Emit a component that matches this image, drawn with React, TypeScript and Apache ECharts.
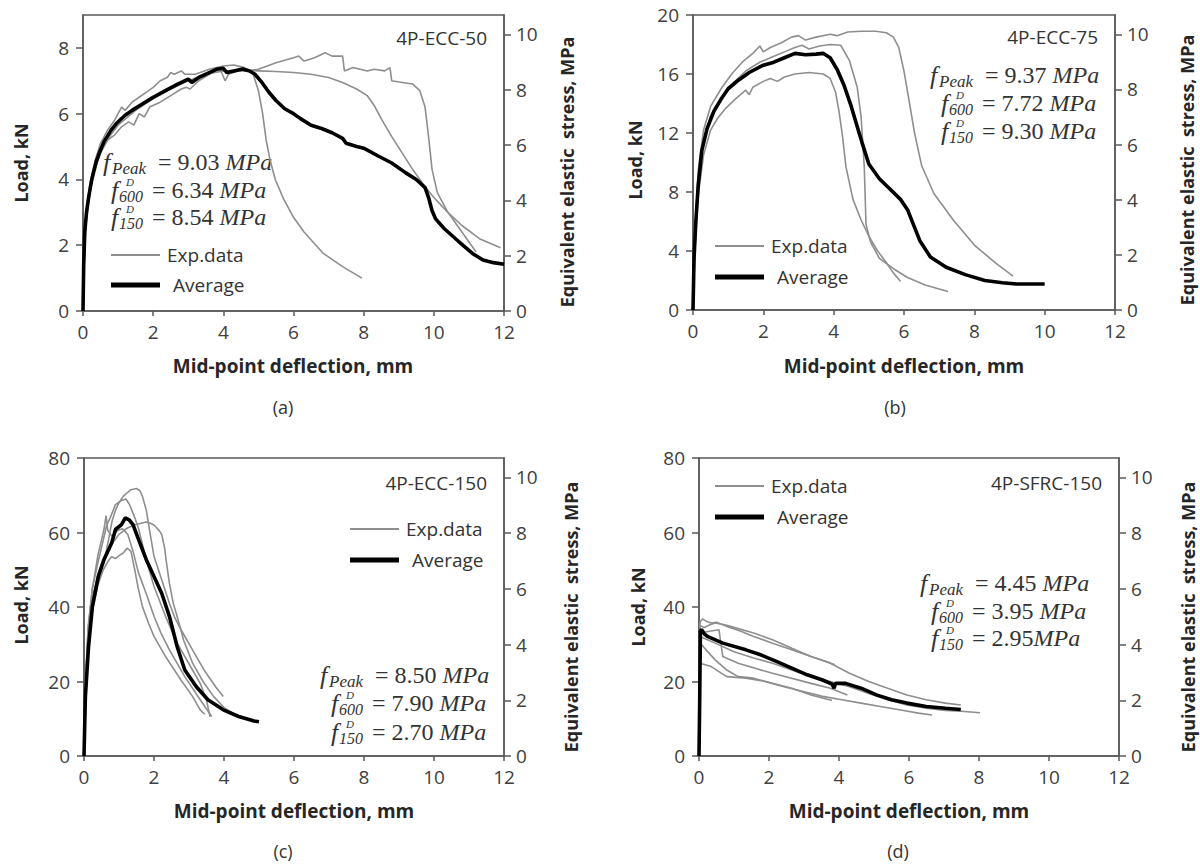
import React, { useEffect, useRef } from 'react';
import * as echarts from 'echarts';

type P = [number, number][];

// ---------- Panel (a) 4P-ECC-50 ----------
const aAvg: P = [[0,0],[0.02,1.4],[0.05,2.4],[0.1,3.0],[0.16,3.45],[0.25,4.0],[0.38,4.55],[0.5,4.9],[0.6,5.15],[0.8,5.5],[0.95,5.7],[1.2,5.95],[1.4,6.1],[1.7,6.3],[2.0,6.5],[2.35,6.7],[2.7,6.9],[3.0,7.05],[3.1,6.95],[3.3,7.1],[3.6,7.25],[3.8,7.35],[4.0,7.38],[4.1,7.25],[4.3,7.3],[4.55,7.36],[4.75,7.3],[4.9,7.2],[5.1,6.95],[5.3,6.65],[5.5,6.4],[5.75,6.15],[6.0,6.0],[6.2,5.85],[6.5,5.65],[6.8,5.55],[7.1,5.42],[7.4,5.25],[7.5,5.1],[7.8,5.0],[8.0,4.95],[8.4,4.72],[8.8,4.5],[9.2,4.2],[9.5,4.0],[9.75,3.75],[9.85,3.45],[9.95,3.05],[10.05,2.8],[10.3,2.5],[10.7,2.12],[11.1,1.75],[11.4,1.55],[11.7,1.47],[12.0,1.42]];
const aExp1: P = [[0,0],[0.05,2.3],[0.1,3.1],[0.2,3.9],[0.35,4.6],[0.5,5.1],[0.7,5.5],[0.9,5.8],[1.1,6.2],[1.2,6.1],[1.4,6.35],[1.6,6.5],[1.8,6.65],[2.0,6.8],[2.2,7.0],[2.4,7.1],[2.5,7.25],[2.6,7.2],[2.8,7.3],[2.9,7.2],[3.2,7.2],[3.6,7.35],[4.0,7.45],[4.3,7.48],[4.6,7.4],[4.85,7.2],[5.0,6.7],[5.12,6.0],[5.22,5.2],[5.33,4.6],[5.48,4.0],[5.72,3.4],[6.0,2.85],[6.3,2.4],[6.85,1.75],[7.4,1.35],[7.95,1.0]];
const aExp2: P = [[0,0],[0.05,2.0],[0.1,2.8],[0.2,3.6],[0.3,4.2],[0.5,4.8],[0.7,5.2],[0.9,5.35],[1.1,5.6],[1.3,5.75],[1.45,5.65],[1.6,6.0],[1.75,5.9],[1.9,6.2],[2.2,6.35],[2.5,6.55],[2.8,6.75],[2.95,6.8],[3.05,6.75],[3.3,7.0],[3.6,7.2],[3.9,7.38],[4.05,7.0],[4.15,7.2],[4.4,7.3],[4.7,7.3],[5.0,7.35],[5.5,7.55],[6.0,7.7],[6.15,7.75],[6.3,7.6],[6.6,7.7],[6.9,7.85],[7.1,7.75],[7.4,7.75],[7.45,7.3],[7.7,7.4],[7.9,7.35],[8.1,7.3],[8.3,7.35],[8.6,7.3],[8.75,7.4],[8.8,7.0],[9.1,6.95],[9.4,6.9],[9.6,6.7],[9.75,6.2],[9.85,5.3],[9.95,4.3],[10.1,3.6],[10.4,3.0],[10.8,2.4],[11.2,1.8]];
const aExp3: P = [[0,0],[0.05,2.2],[0.1,2.9],[0.2,3.7],[0.35,4.4],[0.5,4.85],[0.75,5.3],[1.0,5.65],[1.5,6.1],[2.0,6.45],[2.5,6.75],[3.0,7.0],[3.5,7.2],[4.0,7.3],[4.5,7.32],[5.0,7.3],[5.5,7.28],[6.0,7.25],[6.5,7.2],[7.0,7.1],[7.4,6.95],[7.8,6.75],[8.1,6.55],[8.3,6.25],[8.5,5.85],[8.8,5.3],[9.1,4.8],[9.4,4.3],[9.7,3.85],[10.0,3.45],[10.4,3.0],[10.8,2.6],[11.3,2.2],[11.9,1.92]];

// ---------- Panel (b) 4P-ECC-75 ----------
const bAvg: P = [[0,0],[0.03,3.5],[0.08,6],[0.15,8.5],[0.25,10.8],[0.4,12.3],[0.6,13.5],[0.8,14.3],[1.0,15.0],[1.3,15.6],[1.6,16.1],[2.0,16.6],[2.3,16.8],[2.6,17.1],[2.9,17.4],[3.2,17.3],[3.5,17.35],[3.7,17.4],[3.9,17.1],[4.1,16.3],[4.3,15.2],[4.5,13.8],[4.65,12.6],[4.8,11.4],[5.0,9.9],[5.3,8.9],[5.6,8.2],[5.9,7.5],[6.1,6.8],[6.3,5.6],[6.45,4.7],[6.75,3.6],[7.2,2.9],[7.74,2.4],[8.3,2.0],[8.8,1.85],[9.2,1.76],[10.0,1.76]];
const bExp1: P = [[0,0],[0.05,5],[0.15,9.5],[0.3,12.2],[0.5,13.8],[0.8,15.0],[1.1,16.0],[1.4,16.8],[1.7,17.4],[1.9,17.9],[2.0,17.5],[2.2,17.8],[2.5,18.1],[2.8,18.5],[3.0,18.6],[3.2,18.3],[3.5,18.5],[3.9,18.7],[4.1,18.6],[4.4,18.85],[4.8,18.9],[5.2,18.9],[5.5,18.8],[5.7,18.5],[5.85,17.8],[6.0,16.2],[6.1,14.8],[6.3,12.0],[6.5,9.8],[6.85,7.9],[7.4,6.1],[8.0,4.4],[8.6,3.2],[9.1,2.3]];
const bExp2: P = [[0,0],[0.05,4.5],[0.15,8.8],[0.3,11.5],[0.5,13.2],[0.8,14.4],[1.1,15.3],[1.5,16.2],[1.9,16.8],[2.3,17.2],[2.6,17.5],[2.9,17.8],[3.1,17.95],[3.3,17.7],[3.6,17.9],[3.9,18.0],[4.2,17.95],[4.45,16.9],[4.67,15.1],[4.78,13.1],[4.87,9.7],[4.92,5.8],[5.05,4.6],[5.3,3.5],[5.7,2.8],[6.1,2.2],[6.6,1.7],[7.25,1.25]];
const bExp3: P = [[0,0],[0.05,4],[0.15,7.8],[0.3,10.5],[0.5,12.2],[0.7,13.0],[0.9,13.6],[1.2,14.3],[1.5,14.9],[1.6,14.6],[1.7,15.1],[2.0,15.5],[2.2,15.7],[2.4,15.5],[2.6,15.8],[2.9,16.0],[3.3,16.1],[3.7,16.0],[3.9,15.7],[4.05,14.8],[4.15,13.5],[4.25,11.8],[4.35,9.7],[4.55,7.5],[4.78,6.1],[5.0,5.0],[5.25,4.0],[5.5,3.2],[5.7,2.5],[5.9,1.95]];

// ---------- Panel (c) 4P-ECC-150 ----------
const cAvg: P = [[0,0],[0.04,16],[0.13,29.4],[0.24,40.1],[0.41,48.2],[0.57,52.7],[0.79,57.2],[0.9,60.8],[1.07,62.1],[1.18,63.9],[1.29,63.4],[1.4,62.1],[1.56,58.1],[1.78,52.7],[2.0,48.2],[2.22,43.7],[2.44,37.5],[2.66,29.4],[2.88,23.1],[3.21,18.6],[3.54,15.1],[3.98,12.4],[4.42,10.6],[4.86,9.4],[5.0,9.2]];
const cExp1: P = [[0,0],[0.04,18],[0.12,32],[0.24,42.8],[0.4,48],[0.57,52],[0.7,58],[0.8,63],[0.9,66],[1.0,68],[1.12,69.7],[1.25,70.8],[1.34,71.5],[1.5,71.8],[1.6,71.2],[1.67,69.7],[1.78,66],[1.84,62.5],[1.92,58],[2.0,53.6],[2.22,47.3],[2.44,41],[2.6,37],[2.77,33.9],[2.95,31],[3.1,28.5],[3.43,23.1],[3.76,18.6],[3.98,16]];
const cExp2: P = [[0,0],[0.04,20],[0.12,35],[0.24,45],[0.4,52],[0.55,58],[0.65,62],[0.75,64],[0.9,67.5],[1.05,68.5],[1.2,69],[1.3,67.5],[1.45,64],[1.56,61],[1.78,52.7],[2.0,45.5],[2.33,37.5],[2.66,30.3],[2.99,24.9],[3.32,19.5],[3.5,15],[3.6,10.5]];
const cExp3: P = [[0,0],[0.04,17],[0.12,31],[0.24,42],[0.4,49],[0.6,54],[0.8,57],[1.0,59.5],[1.2,61],[1.45,62.1],[1.78,62.8],[1.9,62.5],[2.0,62],[2.15,60.5],[2.22,59.5],[2.3,56],[2.37,51],[2.44,46.4],[2.55,41],[2.66,37.5],[2.85,31],[3.1,25],[3.4,20],[3.7,16],[4.0,13],[4.3,11.2],[4.6,10.2],[4.8,9.6]];
const cExp4: P = [[0,0],[0.04,15],[0.12,28],[0.24,39],[0.4,46],[0.55,50],[0.7,52.5],[0.79,53.5],[0.9,53],[1.0,53.8],[1.12,54.5],[1.23,55.8],[1.34,55],[1.45,50],[1.55,45],[1.67,40.1],[1.85,35.5],[2.0,32.1],[2.33,26.7],[2.77,20.4],[3.1,16],[3.32,12.4],[3.45,11.2]];
const cExp5: P = [[0,0],[0.04,19],[0.12,34],[0.24,45],[0.4,54],[0.5,58],[0.57,60.8],[0.63,64.5],[0.68,60.5],[0.8,59],[0.95,60.5],[1.1,61],[1.25,59.5],[1.4,55],[1.56,49.1],[1.8,43],[2.0,37.5],[2.2,33],[2.44,28.5],[2.88,21.3],[3.32,15.1],[3.65,10.6]];

// ---------- Panel (d) 4P-SFRC-150 ----------
const dAvg: P = [[0,0],[0.02,15],[0.04,33.5],[0.07,34.0],[0.15,32.8],[0.24,32.1],[0.68,30.3],[1.34,28.5],[1.78,27.1],[2.21,25.4],[2.65,23.6],[3.09,21.8],[3.53,20.4],[3.8,19.3],[3.86,18.2],[3.9,19.5],[4.19,19.5],[4.63,18.2],[5.07,16.4],[5.5,15.1],[5.94,14.2],[6.49,13.3],[7.04,12.8],[7.48,12.5]];
const dExp1: P = [[0,0],[0.03,36],[0.1,36.8],[0.2,36.2],[0.35,35.7],[0.5,35.9],[0.79,34.8],[1.2,33.5],[1.56,32.1],[2.1,30.3],[2.65,28.5],[3.2,26.7],[3.6,25.5],[3.88,24.5]];
const dExp2: P = [[0,0],[0.03,35],[0.15,34.5],[0.3,35.2],[0.46,35.7],[0.7,35.3],[0.9,34.8],[1.56,33],[2.1,31.2],[2.65,28.9],[3.2,26.7],[3.75,24.9],[4.3,22.2],[4.85,20],[5.39,18.2],[5.94,16.4],[6.49,15.1],[7.04,14.2],[7.48,13.7]];
const dExp3: P = [[0,0],[0.03,32.1],[0.46,30.3],[1.0,28],[1.56,26.3],[2.1,24.9],[2.65,23.1],[3.2,21.3],[3.75,20],[4.3,18.6],[4.85,16.8],[5.39,15.1],[5.94,13.7],[6.49,12.8],[7.04,12.2],[7.5,12.0],[8.03,11.6]];
const dExp4: P = [[0,0],[0.03,24.9],[0.35,24],[0.79,21.3],[1.34,20.9],[1.89,20],[2.43,18.6],[2.98,17.3],[3.53,16],[4.08,15.1],[4.63,14.2],[5.18,13.3],[5.72,12.4],[6.27,11.5],[6.66,11]];
const dExp5: P = [[0,0],[0.03,30.3],[0.46,25.8],[0.79,23.1],[1.12,21.3],[1.56,20.9],[2.1,19.5],[2.65,18.2],[3.2,16.4],[3.8,14.9]];
const dExp6: P = [[0,0],[0.03,33],[0.3,33.5],[0.57,33.9],[0.63,30],[0.68,26.7],[1.12,24.9],[2.1,22.2],[3.2,19.5],[3.75,18.2],[4.24,16.4]];

// Axis ranges / labels
const xMax = 12;
const xInterval = 2;
const loadMax = [9, 20, 80, 80];
const loadInterval = [2, 4, 20, 20];
const stressMax = 10.7;
const stressInterval = 2;
const panelNames = ['4P-ECC-50', '4P-ECC-75', '4P-ECC-150', '4P-SFRC-150'];
const captions = ['(a)', '(b)', '(c)', '(d)'];
const fPeak = ['9.03', '9.37', '8.50', '4.45'];
const f600 = ['6.34', '7.72', '7.90', '3.95'];
const f150 = ['8.54', '9.30', '2.70', '2.95'];
const xTitle = 'Mid-point deflection, mm';
const yTitle = 'Load, kN';
const y2Title = 'Equivalent elastic  stress, MPa';
const legendNames = ['Exp.data', 'Average'];

const expSets: P[][] = [
  [aExp1, aExp2, aExp3],
  [bExp1, bExp2, bExp3],
  [cExp1, cExp2, cExp3, cExp4, cExp5],
  [dExp1, dExp2, dExp3, dExp4, dExp5, dExp6],
];
const avgSets: P[] = [aAvg, bAvg, cAvg, dAvg];

// Layout (pixels)
const grids = [
  { left: 83, top: 15, width: 421, height: 296 },
  { left: 693, top: 15, width: 422, height: 295 },
  { left: 84, top: 458, width: 420, height: 298 },
  { left: 699, top: 458, width: 420, height: 298 },
];
const xTitlePos = [[293, 366], [904, 366], [294, 811], [909, 811]];
const yTitlePos = [[21, 163], [635, 160], [21, 605], [638, 607]];
const y2TitlePos = [[567, 172], [1187, 170], [571, 617], [1188, 617]];
const captionPos = [[283, 407], [895, 407], [283, 851], [898, 851]];
const namePos = [[487, 38], [1098, 37], [487, 483], [1102, 483]];
const legendPos = [[111, 255, 30], [715, 246, 31], [350, 529, 31], [715, 486, 31]];
const eqPos = [
  [[158, 162], [152, 190], [152, 217]],
  [[985, 75], [982, 103], [982, 131]],
  [[375, 675], [372, 703], [372, 732]],
  [[975, 583], [972, 611], [972, 638]],
];

const AXIS = '#595959';
const LABEL = '#404040';
const TXT = '#333333';
const EXP_COLOR = '#8e8e8e';
const SANS = '"Open Sans", "Noto Sans", sans-serif';
const SERIF = '"Liberation Serif", "DejaVu Serif", serif';

function eqLine(eqX: number, y: number, kind: string, value: string, gap: boolean): any[] {
  const els: any[] = [];
  const isPeak = kind === 'Peak';
  const x0 = eqX - (isPeak ? 55 : 41);
  els.push({ type: 'text', x: x0, y, style: { text: 'f', fontFamily: SERIF, fontStyle: 'italic', fontSize: 26, fill: TXT, verticalAlign: 'middle', align: 'left' } });
  if (isPeak) {
    els.push({ type: 'text', x: x0 + 9, y: y + 6, style: { text: 'Peak', fontFamily: SERIF, fontStyle: 'italic', fontSize: 17, fill: TXT, verticalAlign: 'middle', align: 'left' } });
  } else {
    els.push({ type: 'text', x: x0 + 15, y: y - 8, style: { text: 'D', fontFamily: SERIF, fontStyle: 'italic', fontSize: 11, fill: TXT, verticalAlign: 'middle', align: 'left' } });
    els.push({ type: 'text', x: x0 + 8, y: y + 6, style: { text: kind, fontFamily: SERIF, fontStyle: 'italic', fontSize: 16, fill: TXT, verticalAlign: 'middle', align: 'left' } });
  }
  els.push({
    type: 'text', x: eqX, y,
    style: {
      text: `{n|= ${value}${gap ? ' ' : ''}}{i|MPa}`,
      verticalAlign: 'middle', align: 'left',
      rich: {
        n: { fontFamily: SERIF, fontSize: 24, fill: TXT },
        i: { fontFamily: SERIF, fontStyle: 'italic', fontSize: 24, fill: TXT },
      },
    },
  });
  return els;
}

function buildOption() {
  const xAxis: any[] = [];
  const yAxis: any[] = [];
  const series: any[] = [];
  const graphic: any[] = [];
  const axisLine = { show: true, lineStyle: { color: AXIS, width: 1.5 } };
  const tickStyle = { color: AXIS, width: 1.5 };
  const labelStyle = { fontFamily: SANS, fontSize: 19, color: LABEL };

  grids.forEach((g, i) => {
    xAxis.push({
      gridIndex: i, type: 'value', min: 0, max: xMax, interval: xInterval,
      axisLine, axisTick: { show: true, length: 5, lineStyle: tickStyle },
      axisLabel: { ...labelStyle, margin: 11 }, splitLine: { show: false },
    });
    yAxis.push({
      gridIndex: i, type: 'value', position: 'left', min: 0, max: loadMax[i], interval: loadInterval[i],
      axisLine, axisTick: { show: true, length: 7, lineStyle: tickStyle },
      axisLabel: { ...labelStyle, margin: 14, showMaxLabel: loadMax[i] % loadInterval[i] === 0 },
      splitLine: { show: false },
    });
    yAxis.push({
      gridIndex: i, type: 'value', position: 'right', min: 0, max: stressMax, interval: stressInterval,
      axisLine, axisTick: { show: true, length: 7, lineStyle: tickStyle },
      axisLabel: { ...labelStyle, margin: 12, showMaxLabel: false },
      splitLine: { show: false },
    });
    expSets[i].forEach((d) => {
      series.push({
        type: 'line', xAxisIndex: i, yAxisIndex: i * 2, data: d, showSymbol: false, symbol: 'none',
        lineStyle: { color: EXP_COLOR, width: 1.6 }, silent: true, z: 2,
      });
    });
    series.push({
      type: 'line', xAxisIndex: i, yAxisIndex: i * 2, data: avgSets[i], showSymbol: false, symbol: 'none',
      lineStyle: { color: '#000000', width: 3.6 }, silent: true, z: 3,
    });

    // axis titles
    graphic.push({ type: 'text', x: xTitlePos[i][0], y: xTitlePos[i][1], style: { text: xTitle, fontFamily: SANS, fontWeight: 'bold', fontSize: 19, fill: '#262626', align: 'center', verticalAlign: 'middle' } });
    graphic.push({ type: 'text', x: yTitlePos[i][0], y: yTitlePos[i][1], rotation: Math.PI / 2, style: { text: yTitle, fontFamily: SANS, fontWeight: 'bold', fontSize: 18, fill: '#262626', align: 'center', verticalAlign: 'middle' } });
    graphic.push({ type: 'text', x: y2TitlePos[i][0], y: y2TitlePos[i][1], rotation: Math.PI / 2, style: { text: y2Title, fontFamily: SANS, fontWeight: 'bold', fontSize: 18, fill: '#262626', align: 'center', verticalAlign: 'middle' } });
    graphic.push({ type: 'text', x: captionPos[i][0], y: captionPos[i][1], style: { text: captions[i], fontFamily: SANS, fontSize: 18, fill: TXT, align: 'center', verticalAlign: 'middle' } });
    graphic.push({ type: 'text', x: namePos[i][0], y: namePos[i][1], style: { text: panelNames[i], fontFamily: SANS, fontSize: 19, fill: TXT, align: 'right', verticalAlign: 'middle' } });

    // legend
    const [lx, ly, dy] = legendPos[i];
    graphic.push({ type: 'line', shape: { x1: lx, y1: ly, x2: lx + 49, y2: ly }, style: { stroke: EXP_COLOR, lineWidth: 2 } });
    graphic.push({ type: 'text', x: lx + 56, y: ly, style: { text: legendNames[0], fontFamily: SANS, fontSize: 19, fill: TXT, align: 'left', verticalAlign: 'middle' } });
    graphic.push({ type: 'line', shape: { x1: lx, y1: ly + dy, x2: lx + 49, y2: ly + dy }, style: { stroke: '#000000', lineWidth: 5 } });
    graphic.push({ type: 'text', x: lx + 62, y: ly + dy, style: { text: legendNames[1], fontFamily: SANS, fontSize: 19, fill: TXT, align: 'left', verticalAlign: 'middle' } });

    // equations
    const ep = eqPos[i];
    graphic.push(...eqLine(ep[0][0], ep[0][1], 'Peak', fPeak[i], true));
    graphic.push(...eqLine(ep[1][0], ep[1][1], '600', f600[i], true));
    graphic.push(...eqLine(ep[2][0], ep[2][1], '150', f150[i], i !== 3));
  });

  return {
    animation: false,
    backgroundColor: '#ffffff',
    grid: grids.map((g) => ({ ...g, show: true, borderColor: AXIS, borderWidth: 1.5, backgroundColor: 'transparent', containLabel: false })),
    xAxis, yAxis, series, graphic,
  };
}

export default function App() {
  const ref = useRef<HTMLDivElement>(null);
  useEffect(() => {
    if (!ref.current) return;
    const chart = echarts.init(ref.current, undefined, { renderer: 'svg' });
    chart.setOption(buildOption() as any);
    return () => chart.dispose();
  }, []);
  return <div ref={ref} style={{ position: 'absolute', left: 0, top: 0, width: 1200, height: 864, background: '#fff' }} />;
}
